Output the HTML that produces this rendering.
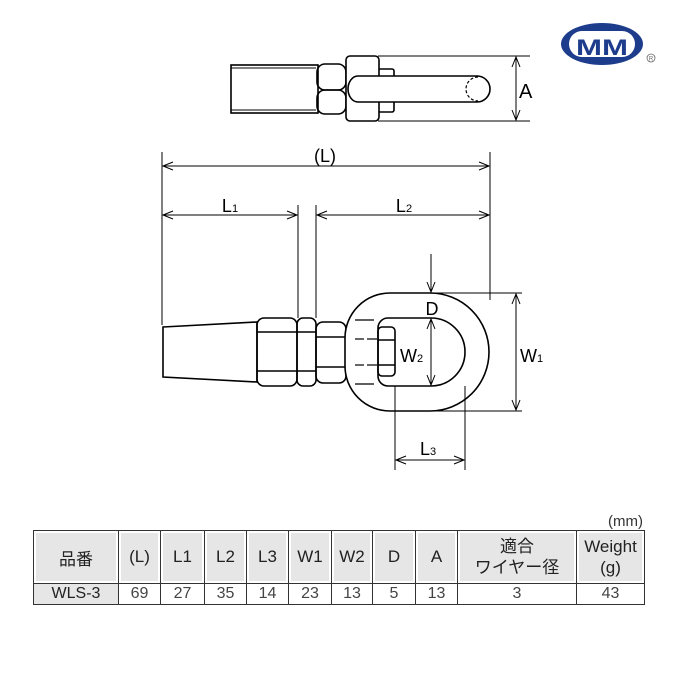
<!DOCTYPE html>
<html><head><meta charset="utf-8"><style>
body{margin:0;background:#fff;width:680px;height:680px;overflow:hidden;position:relative;font-family:"Liberation Sans","Noto Sans CJK JP",sans-serif}
svg{position:absolute;left:0;top:0}
table{position:absolute;left:33px;top:530px;border-collapse:collapse;font-size:17px;color:#222}
td{border:1px solid #333;text-align:center;padding:0;height:52px;background:#fff}
tr.h td{background:#e6e6e6;box-shadow:inset 0 0 0 2px #fff}
tr.d td{height:20px;font-size:16px;color:#444}
tr.d td.f{background:#e6e6e6;color:#222}
</style></head><body>
<svg width="680" height="680" viewBox="0 0 680 680" fill="none" stroke="#000" stroke-width="1.6" font-family="Liberation Sans, sans-serif">
<!-- logo -->
<ellipse cx="602" cy="44" rx="41" ry="21" fill="#1e3c8c" stroke="none"/>
<rect x="569" y="31" width="66" height="26" rx="13" fill="#fff" stroke="none"/>
<text x="602" y="55" text-anchor="middle" font-size="22" font-weight="bold" fill="#1e3c8c" stroke="none" textLength="52" lengthAdjust="spacingAndGlyphs">MM</text>
<circle cx="651" cy="58" r="4" stroke="#666" stroke-width="0.8"/>
<text x="651" y="60.5" text-anchor="middle" font-size="6" fill="#666" stroke="none">R</text>

<!-- top view -->
<rect x="231" y="65" width="87" height="48"/>
<line x1="231" y1="68" x2="316" y2="68" stroke-width="1"/>
<line x1="231" y1="110" x2="316" y2="110" stroke-width="1"/>
<rect x="317" y="64" width="29" height="26" rx="8"/>
<rect x="317" y="90" width="29" height="24" rx="8"/>
<rect x="378" y="69" width="16" height="11" rx="2"/>
<rect x="378" y="101" width="16" height="11" rx="2"/>
<rect x="346" y="56" width="33" height="65" rx="4" fill="#fff"/>
<path d="M358 76 H477 A13 13 0 0 1 477 102 H358 A10 13 0 0 1 358 76 Z" fill="#fff"/>
<path d="M478 77 A12 12 0 0 0 478 101" stroke-dasharray="3 2" stroke-width="1.2"/>
<line x1="378" y1="56" x2="530" y2="56" stroke-width="1"/>
<line x1="378" y1="121" x2="530" y2="121" stroke-width="1"/>
<line x1="516" y1="58" x2="516" y2="119" stroke-width="1"/>
<path d="M512 67 L516 57 L520 67 M512 110 L516 120 L520 110" stroke-width="1"/>
<text x="519" y="98" font-size="20" fill="#000" stroke="none">A</text>

<!-- dims L -->
<g stroke-width="1">
<line x1="162" y1="152" x2="162" y2="325"/>
<line x1="490" y1="152" x2="490" y2="300"/>
<line x1="163" y1="166" x2="489" y2="166"/>
<path d="M173 162 L163 166 L173 170 M479 162 L489 166 L479 170"/>
<line x1="298" y1="205" x2="298" y2="318"/>
<line x1="316" y1="205" x2="316" y2="318"/>
<line x1="163" y1="215" x2="297" y2="215"/>
<path d="M173 211 L163 215 L173 219 M287 211 L297 215 L287 219"/>
<line x1="317" y1="215" x2="489" y2="215"/>
<path d="M327 211 L317 215 L327 219 M479 211 L489 215 L479 219"/>
</g>
<text x="325" y="162" text-anchor="middle" font-size="18" fill="#000" stroke="none">(L)</text>
<text x="230" y="212" text-anchor="middle" font-size="18" fill="#000" stroke="none">L<tspan font-size="11">1</tspan></text>
<text x="404" y="212" text-anchor="middle" font-size="18" fill="#000" stroke="none">L<tspan font-size="11">2</tspan></text>

<!-- side view body -->
<path d="M163 327 L257 322 L257 382 L163 377 Z"/>
<rect x="257" y="318" width="40" height="68" rx="7"/>
<line x1="257" y1="332" x2="297" y2="332"/><line x1="257" y1="371" x2="297" y2="371"/>
<rect x="297" y="318" width="19" height="68" rx="6"/>
<line x1="297" y1="332" x2="316" y2="332"/><line x1="297" y1="371" x2="316" y2="371"/>
<rect x="316" y="322" width="30" height="61" rx="7"/>
<line x1="316" y1="337" x2="346" y2="337"/><line x1="316" y1="367" x2="346" y2="367"/>
<!-- eye -->
<path d="M390 293 H430 A59 59 0 0 1 430 411 H390 A45 45 0 0 1 345 366 V338 A45 45 0 0 1 390 293 Z" fill="#fff"/>
<path d="M388 318 H431 A34 34 0 0 1 431 386 H388 A10 10 0 0 1 378 376 V328 A10 10 0 0 1 388 318 Z"/>
<rect x="378" y="327" width="17" height="49" rx="4"/>
<line x1="378" y1="340" x2="395" y2="340"/><line x1="378" y1="365" x2="395" y2="365"/>
<g stroke-width="1.2"><line x1="355" y1="320" x2="374" y2="320"/><line x1="355" y1="339" x2="364" y2="339"/><line x1="367" y1="339" x2="377" y2="339"/><line x1="355" y1="365" x2="364" y2="365"/><line x1="367" y1="365" x2="377" y2="365"/><line x1="355" y1="384" x2="374" y2="384"/></g>
<g stroke-width="1">
<line x1="431" y1="319" x2="431" y2="385"/>
<path d="M427 329 L431 319 L435 329 M427 375 L431 385 L435 375"/>
<line x1="431" y1="254" x2="431" y2="292"/>
<path d="M427 282 L431 292 L435 282"/>
<line x1="430" y1="293" x2="522" y2="293"/>
<line x1="430" y1="411" x2="522" y2="411"/>
<line x1="516" y1="294" x2="516" y2="410"/>
<path d="M512 304 L516 294 L520 304 M512 400 L516 410 L520 400"/>
<line x1="395" y1="386" x2="395" y2="470"/>
<line x1="465" y1="386" x2="465" y2="470"/>
<line x1="396" y1="460" x2="464" y2="460"/>
<path d="M406 456 L396 460 L406 464 M454 456 L464 460 L454 464"/>
</g>
<text x="432" y="315" text-anchor="middle" font-size="18" fill="#000" stroke="none">D</text>
<text x="400" y="362" font-size="18" fill="#000" stroke="none">W<tspan font-size="11">2</tspan></text>
<text x="520" y="362" font-size="18" fill="#000" stroke="none">W<tspan font-size="11">1</tspan></text>
<text x="420" y="455" font-size="18" fill="#000" stroke="none">L<tspan font-size="11">3</tspan></text>
<text x="643" y="526" text-anchor="end" font-size="15" fill="#333" stroke="none">(mm)</text>
</svg>
<table>
<colgroup><col style="width:85px"><col style="width:42px"><col style="width:44px"><col style="width:42px"><col style="width:42px"><col style="width:43px"><col style="width:41px"><col style="width:43px"><col style="width:42px"><col style="width:119px"><col style="width:68px"></colgroup>
<tr class="h"><td>品番</td><td>(L)</td><td>L1</td><td>L2</td><td>L3</td><td>W1</td><td>W2</td><td>D</td><td>A</td><td style="line-height:21px">適合<br>ワイヤー径</td><td style="line-height:21px">Weight<br>(g)</td></tr>
<tr class="d"><td class="f">WLS-3</td><td>69</td><td>27</td><td>35</td><td>14</td><td>23</td><td>13</td><td>5</td><td>13</td><td>3</td><td>43</td></tr>
</table>
</body></html>
